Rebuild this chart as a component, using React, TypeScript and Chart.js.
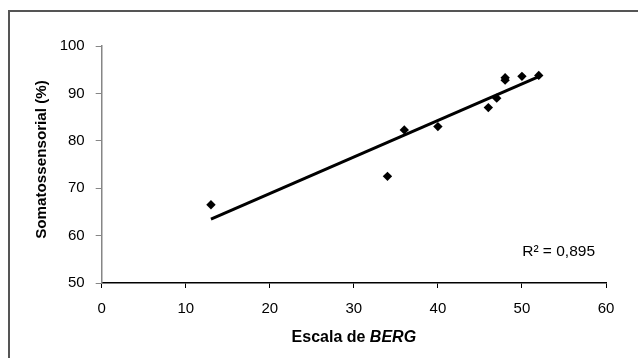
import React, { useEffect, useRef } from "react";
import { Chart, registerables } from "chart.js";

Chart.register(...registerables);

const berg = [13, 34, 36, 40, 46, 47, 48, 48, 50, 52];
const somato = [66.5, 72.5, 82.3, 83, 87, 89, 92.8, 93.3, 93.6, 93.8];
const xTicks = [0, 10, 20, 30, 40, 50, 60];
const yTicks = [50, 60, 70, 80, 90, 100];
const r2Label = "R² = 0,895";
const xTitle = "Escala de ";
const xTitleItalic = "BERG";
const yTitle = "Somatossensorial (%)";

function regression(xs: number[], ys: number[]) {
  const n = xs.length;
  const mx = xs.reduce((a, b) => a + b, 0) / n;
  const my = ys.reduce((a, b) => a + b, 0) / n;
  let sxy = 0, sxx = 0;
  for (let i = 0; i < n; i++) {
    sxy += (xs[i] - mx) * (ys[i] - my);
    sxx += (xs[i] - mx) ** 2;
  }
  const slope = sxy / sxx;
  return { slope, intercept: my - slope * mx };
}

const FONT = "'Liberation Sans', Arial, sans-serif";

export default function App() {
  const ref = useRef<HTMLCanvasElement | null>(null);
  useEffect(() => {
    if (!ref.current) return;
    const { slope, intercept } = regression(berg, somato);
    const xmin = Math.min(...berg);
    const xmax = Math.max(...berg);
    const trend = [
      { x: xmin, y: intercept + slope * xmin },
      { x: xmax, y: intercept + slope * xmax },
    ];
    const points = berg.map((x, i) => ({ x, y: somato[i] }));

    const extras = {
      id: "extras",
      afterDraw(chart: any) {
        const ctx = chart.ctx;
        const xs = chart.scales.x;
        const ys = chart.scales.y;
        ctx.save();
        // outer frame
        ctx.strokeStyle = "#555555";
        ctx.lineWidth = 2;
        ctx.strokeRect(9, 11, 700, 700);
        // R² label
        ctx.fillStyle = "#000";
        ctx.font = `15.5px ${FONT}`;
        ctx.textAlign = "right";
        ctx.textBaseline = "alphabetic";
        ctx.fillText(r2Label, 595, 255.5);
        // x title
        const tf = 16;
        ctx.font = `bold ${tf}px ${FONT}`;
        const w1 = ctx.measureText(xTitle).width;
        ctx.font = `italic bold ${tf}px ${FONT}`;
        const w2 = ctx.measureText(xTitleItalic).width;
        const cx = (xs.left + xs.right) / 2;
        const start = cx - (w1 + w2) / 2;
        ctx.textAlign = "left";
        ctx.font = `bold ${tf}px ${FONT}`;
        ctx.fillText(xTitle, start, 341.5);
        ctx.font = `italic bold ${tf}px ${FONT}`;
        ctx.fillText(xTitleItalic, start + w1, 341.5);
        // y title
        ctx.translate(46, (ys.top + ys.bottom) / 2 - 5);
        ctx.rotate(-Math.PI / 2);
        ctx.textAlign = "center";
        ctx.font = `bold 15.2px ${FONT}`;
        ctx.fillText(yTitle, 0, 0);
        ctx.restore();
      },
    };

    const chart = new Chart(ref.current, {
      type: "scatter",
      data: {
        datasets: [
          {
            type: "line",
            data: trend,
            borderColor: "#000",
            borderWidth: 3,
            pointRadius: 0,
            fill: false,
          } as any,
          {
            data: points,
            pointStyle: "rectRot",
            pointRadius: 4.7,
            backgroundColor: "#000",
            borderColor: "#000",
            borderWidth: 0,
          },
        ],
      },
      options: {
        animation: false,
        responsive: false,
        events: [],
        layout: { padding: { left: 0, right: 32, top: 46, bottom: 0 } },
        plugins: { legend: { display: false }, tooltip: { enabled: false } },
        scales: {
          x: {
            type: "linear",
            min: 0,
            max: 60,
            afterBuildTicks: (s: any) => {
              s.ticks = xTicks.map((v) => ({ value: v }));
            },
            afterFit: (s: any) => {
              s.height = 75;
            },
            grid: {
              drawOnChartArea: false,
              drawTicks: true,
              tickLength: 5,
              color: "#000",
              lineWidth: 1,
            },
            border: { color: "#000", width: 1.5 },
            ticks: {
              color: "#000",
              padding: 12,
              font: { family: FONT, size: 15 },
              maxRotation: 0,
            },
          },
          y: {
            type: "linear",
            min: 50,
            max: 100,
            afterBuildTicks: (s: any) => {
              s.ticks = yTicks.map((v) => ({ value: v }));
            },
            afterFit: (s: any) => {
              s.width = 101.7;
            },
            grid: {
              drawOnChartArea: false,
              drawTicks: true,
              tickLength: 6,
              color: "#868686",
              lineWidth: 1,
            },
            border: { color: "#868686", width: 1.5 },
            ticks: {
              color: "#000",
              padding: 11,
              font: { family: FONT, size: 15 },
            },
          },
        },
      },
      plugins: [extras],
    });
    return () => chart.destroy();
  }, []);
  return (
    <div style={{ position: "fixed", left: 0, top: 0, width: 638, height: 358, background: "#fff" }}>
      <canvas ref={ref} width={638} height={358} style={{ display: "block" }} />
    </div>
  );
}
